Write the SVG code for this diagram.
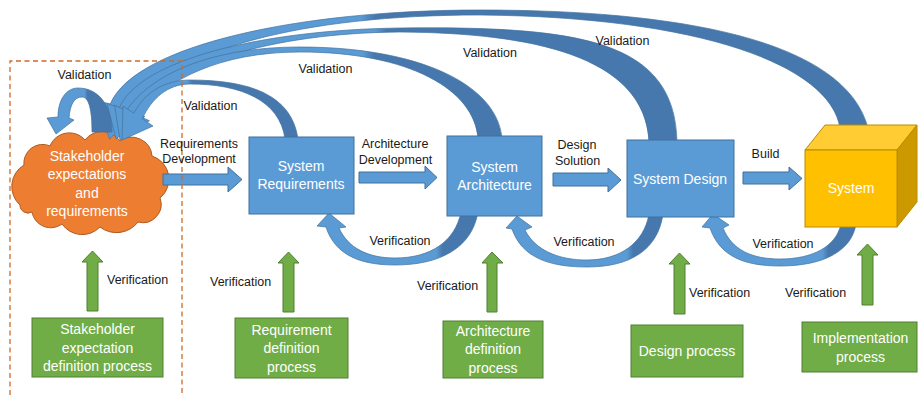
<svg xmlns="http://www.w3.org/2000/svg" width="918" height="395" viewBox="0 0 918 395">
<style>
text{font-family:"Liberation Sans",Arial,sans-serif}
.w{fill:#fff;font-size:14px;text-anchor:middle}
.k{fill:#1a1a1a;font-size:12.5px}
.km{fill:#1a1a1a;font-size:12.5px;text-anchor:middle}
.blue{fill:#5B9BD5;stroke:#41719C;stroke-width:1}
.green{fill:#70AD47;stroke:#507E32;stroke-width:1}
.arc{stroke:#41719C;stroke-width:0.7}
.dash{fill:none;stroke:#D06A28;stroke-width:1.3;stroke-dasharray:5,3.5}
</style>
<defs>
<linearGradient id="gS"><stop offset="0" stop-color="#5B9BD5"/><stop offset="0.34" stop-color="#5B9BD5"/><stop offset="0.36" stop-color="#4678AE"/><stop offset="1" stop-color="#4678AE"/></linearGradient>
<linearGradient id="gD"><stop offset="0" stop-color="#5B9BD5"/><stop offset="0.47" stop-color="#5B9BD5"/><stop offset="0.49" stop-color="#4678AE"/><stop offset="1" stop-color="#4678AE"/></linearGradient>
<linearGradient id="gA"><stop offset="0" stop-color="#5B9BD5"/><stop offset="0.64" stop-color="#5B9BD5"/><stop offset="0.67" stop-color="#4678AE"/><stop offset="1" stop-color="#4678AE"/></linearGradient>
<linearGradient id="gR"><stop offset="0" stop-color="#5B9BD5"/><stop offset="0.37" stop-color="#5B9BD5"/><stop offset="0.40" stop-color="#4678AE"/><stop offset="1" stop-color="#4678AE"/></linearGradient>
<linearGradient id="gL"><stop offset="0" stop-color="#5B9BD5"/><stop offset="0.58" stop-color="#5B9BD5"/><stop offset="0.62" stop-color="#4678AE"/><stop offset="1" stop-color="#4678AE"/></linearGradient>
<linearGradient id="gV1"><stop offset="0" stop-color="#5B9BD5"/><stop offset="0.74" stop-color="#5B9BD5"/><stop offset="0.78" stop-color="#4678AE"/><stop offset="1" stop-color="#4678AE"/></linearGradient>
<linearGradient id="gV2"><stop offset="0" stop-color="#5B9BD5"/><stop offset="0.77" stop-color="#5B9BD5"/><stop offset="0.81" stop-color="#4678AE"/><stop offset="1" stop-color="#4678AE"/></linearGradient>
<linearGradient id="gV3"><stop offset="0" stop-color="#5B9BD5"/><stop offset="0.78" stop-color="#5B9BD5"/><stop offset="0.82" stop-color="#4678AE"/><stop offset="1" stop-color="#4678AE"/></linearGradient>
</defs>

<g id="cloud">
<path d="M20,205 A25,25 0 0 1 24,165 A18.7,18.7 0 0 1 50,146 A20.8,20.8 0 0 1 85,140 A21.5,21.5 0 0 1 120,141 A20.3,20.3 0 0 1 152,156 A24.3,24.3 0 0 1 160,198 A18.3,18.3 0 0 1 138,222 A27,27 0 0 1 100,227 A24.6,24.6 0 0 1 62,224 A19,19 0 0 1 32,212 A8,8 0 0 1 20,205 Z" fill="#ED7D31" stroke="#AE5A21" stroke-width="1"/>
<text class="w" x="87" y="161">Stakeholder</text>
<text class="w" x="87" y="179">expectations</text>
<text class="w" x="87" y="198">and</text>
<text class="w" x="87" y="216">requirements</text>
</g>

<g id="connectors">
<path class="arc" fill="url(#gS)" d="M868,128 C845,40 680,10 480,10 C300,10 135,45 110.2,104 L97.6,100.8 L109.5,139 L138.4,111.3 L125.8,108 C175,50 300,15 480,15 C700,17 830,65 840,128 Z"/>
<path class="arc" fill="url(#gD)" d="M677,142 C675,40 580,26 400,28 C260,30 140,60 119.4,107.7 L107.1,103.5 L116,139 L144.9,116.5 L132.6,112.3 C170,65 270,33 400,32 C530,33 645,55 649,142 Z"/>
<path class="arc" fill="url(#gA)" d="M502,139 C498,85 420,47 300,47 C210,47 150,75 126.5,110.6 L114.6,105.3 L120,140 L149.4,120.7 L137.5,115.4 C165,80 220,52 300,52 C410,52 475,90 478,139 Z"/>
<path class="arc" fill="url(#gR)" d="M298,139 C292,95 250,80 190,80 C165,80 145,92 133.8,113.2 L123,106 L122,140 L153,126 L142.2,118.8 C152,98 168,84 190,84 C240,84 280,100 285,139 Z"/>
<path class="arc" fill="url(#gL)" d="M112,132 C111,100 95,88 78,88 C66,88 58,100 58,117 L47,118 L56,134 L74,120 L69,118 C70,105 74,97 82,97 C89,97 92,110 92,132 Z"/>
<path class="arc" fill="url(#gV1)" d="M326,227 C335,255 360,265 395,265 C440,265 472,248 478,212 L461,212 C455,242 430,258 395,258 C368,258 348,248 339,228 L346,227 L329,213 L317,226 Z"/>
<path class="arc" fill="url(#gV2)" d="M512,229 C522,258 550,267 587,267 C630,267 658,250 663,214 L649,214 C644,243 620,260 587,260 C558,260 535,250 525,230 L532,227 L517,216 L506,228 Z"/>
<path class="arc" fill="url(#gV3)" d="M710,228 C720,257 745,266 780,266 C825,266 852,250 856,224 L841,224 C836,247 812,259 780,259 C752,259 732,250 723,228 L729,225 L713,214 L702,227 Z"/>
<polygon class="blue" points="163,174 228,174 228,167 242,179.5 228,192 228,185 163,185"/>
<polygon class="blue" points="359,172 425,172 425,166 437,177.5 425,189 425,183 359,183"/>
<polygon class="blue" points="553,173 608,173 608,168 621,180 608,192 608,186 553,186"/>
<polygon class="blue" points="743,172 789,172 789,167 802,178.5 789,190 789,184 743,184"/>
<polygon class="green" points="87,311 87,262 82,262 92.5,251 103,262 98,262 98,311"/>
<polygon class="green" points="283,312 283,263 278,263 288.5,252 299,263 294,263 294,312"/>
<polygon class="green" points="487,312 487,263 482,263 492,252 503,263 497,263 497,312"/>
<polygon class="green" points="674,314 674,264 669,264 679.5,253 690,264 685,264 685,314"/>
<polygon class="green" points="862,305 862,255 857,255 867.5,244 878,255 873,255 873,305"/>
</g>

<g id="sysreq">
<rect class="blue" x="249" y="137" width="105" height="77"/>
<text class="w" x="301" y="171">System</text>
<text class="w" x="301" y="189">Requirements</text>
</g>
<g id="sysarch">
<rect class="blue" x="447" y="136" width="95" height="80"/>
<text class="w" x="494.5" y="172">System</text>
<text class="w" x="494.5" y="190">Architecture</text>
</g>
<g id="sysdesign">
<rect class="blue" x="627" y="140" width="107" height="77"/>
<text class="w" x="680" y="184">System Design</text>
</g>
<g id="system">
<polygon points="805,150 825,125 917,125 897,150" fill="#FFCD33" stroke="#BC8C00" stroke-width="1"/>
<polygon points="897,150 917,125 917,202 897,227" fill="#CC9A00" stroke="#BC8C00" stroke-width="1"/>
<rect x="805" y="150" width="92" height="77" fill="#FFC000" stroke="#BC8C00" stroke-width="1"/>
<text class="w" x="851" y="193">System</text>
</g>

<g id="stakeproc">
<rect class="green" x="32" y="318" width="131" height="59"/>
<text class="w" x="97.5" y="334">Stakeholder</text>
<text class="w" x="97.5" y="352.5">expectation</text>
<text class="w" x="97.5" y="371">definition process</text>
</g>
<g id="reqproc">
<rect class="green" x="235" y="318" width="113" height="60"/>
<text class="w" x="291.5" y="335">Requirement</text>
<text class="w" x="291.5" y="353">definition</text>
<text class="w" x="291.5" y="371.5">process</text>
</g>
<g id="archproc">
<rect class="green" x="443" y="321" width="100" height="57"/>
<text class="w" x="493" y="336">Architecture</text>
<text class="w" x="493" y="354">definition</text>
<text class="w" x="493" y="372.5">process</text>
</g>
<g id="designproc">
<rect class="green" x="631" y="325" width="112" height="52"/>
<text class="w" x="687" y="356">Design process</text>
</g>
<g id="implproc">
<rect class="green" x="802" y="322" width="115" height="50"/>
<text class="w" x="860.5" y="343">Implementation</text>
<text class="w" x="860.5" y="361.5">process</text>
</g>

<g id="boundary">
<path class="dash" d="M10,395 L10,61 L182,61 L182,395"/>
</g>

<g id="labels">
<text class="km" x="84.5" y="79">Validation</text>
<text class="km" x="210.5" y="110">Validation</text>
<text class="km" x="325.5" y="73">Validation</text>
<text class="km" x="490" y="57">Validation</text>
<text class="km" x="622.5" y="45">Validation</text>
<text class="km" x="199" y="147.5">Requirements</text>
<text class="km" x="199" y="163">Development</text>
<text class="km" x="395" y="147.5">Architecture</text>
<text class="km" x="395.5" y="163.5">Development</text>
<text class="km" x="577" y="149">Design</text>
<text class="km" x="577.5" y="165">Solution</text>
<text class="km" x="765.5" y="157.5">Build</text>
<text class="km" x="400" y="245">Verification</text>
<text class="km" x="584" y="245.5">Verification</text>
<text class="km" x="783" y="248">Verification</text>
<text class="k" x="107" y="283.5">Verification</text>
<text class="k" x="210" y="286">Verification</text>
<text class="k" x="417" y="290">Verification</text>
<text class="k" x="689" y="297">Verification</text>
<text class="k" x="785" y="297">Verification</text>
</g>
</svg>
